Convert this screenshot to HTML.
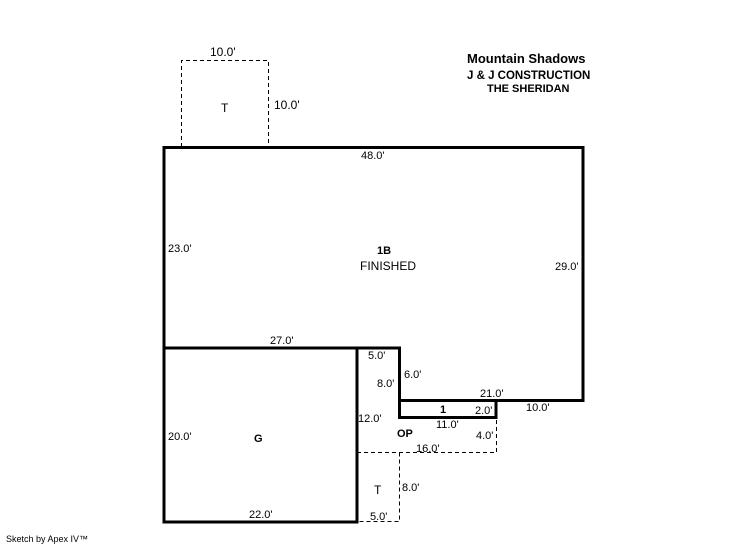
<!DOCTYPE html>
<html><head><meta charset="utf-8"><style>
html,body{margin:0;padding:0;background:#fff;}
svg{display:block}
text{font-family:"Liberation Sans",Arial,sans-serif;fill:#000}
</style></head><body>
<svg width="746" height="547" viewBox="0 0 746 547" xmlns="http://www.w3.org/2000/svg">
<g fill="none" stroke="#000" stroke-width="1" stroke-dasharray="4,3">
<path d="M181.5 147V60.5H268.5V147"/>
<path d="M357 452.5H496.5V418"/>
<path d="M399.5 452.5V521.5H357"/>
</g>
<g fill="none" stroke="#000" stroke-width="3" stroke-linecap="square">
<path d="M164 147.5H583V400.5H496"/>
<path d="M164 147.5V522H357V348H164"/>
<path d="M357 348H399.5V417.5H496V400.5"/>
<path d="M399.5 400.5H496"/>
</g>
<g font-size="12">
<text x="210" y="56">10.0'</text>
<text x="274" y="109">10.0'</text>
<text x="221" y="112">T</text>
<text x="361" y="159" font-size="11">48.0'</text>
<text x="168" y="252" font-size="11">23.0'</text>
<text x="555" y="270" font-size="11">29.0'</text>
<text x="377" y="254" font-size="11" font-weight="bold">1B</text>
<text x="360" y="270">FINISHED</text>
<text x="270" y="344" font-size="11">27.0'</text>
<text x="368" y="359" font-size="11">5.0'</text>
<text x="404" y="378" font-size="11">6.0'</text>
<text x="377" y="387" font-size="11">8.0'</text>
<text x="480" y="397" font-size="11">21.0'</text>
<text x="526" y="411" font-size="11">10.0'</text>
<text x="440" y="413" font-size="11" font-weight="bold">1</text>
<text x="475" y="414" font-size="11">2.0'</text>
<text x="436" y="428" font-size="11">11.0'</text>
<text x="358" y="422" font-size="11">12.0'</text>
<text x="397" y="437" font-size="11" font-weight="bold">OP</text>
<text x="476" y="439" font-size="11">4.0'</text>
<text x="416" y="452" font-size="11">16.0'</text>
<text x="168" y="440" font-size="11">20.0'</text>
<text x="254" y="442" font-size="11" font-weight="bold">G</text>
<text x="374" y="494">T</text>
<text x="402" y="491" font-size="11">8.0'</text>
<text x="249" y="518" font-size="11">22.0'</text>
<text x="370" y="520" font-size="11">5.0'</text>
<text x="467" y="63" font-size="13" font-weight="bold">Mountain Shadows</text>
<text x="467" y="79" font-size="11.5" font-weight="bold">J &amp; J CONSTRUCTION</text>
<text x="487" y="92" font-size="11" font-weight="bold">THE SHERIDAN</text>
<text x="6" y="542" font-size="9">Sketch by Apex IV™</text>
</g>
</svg>
</body></html>
